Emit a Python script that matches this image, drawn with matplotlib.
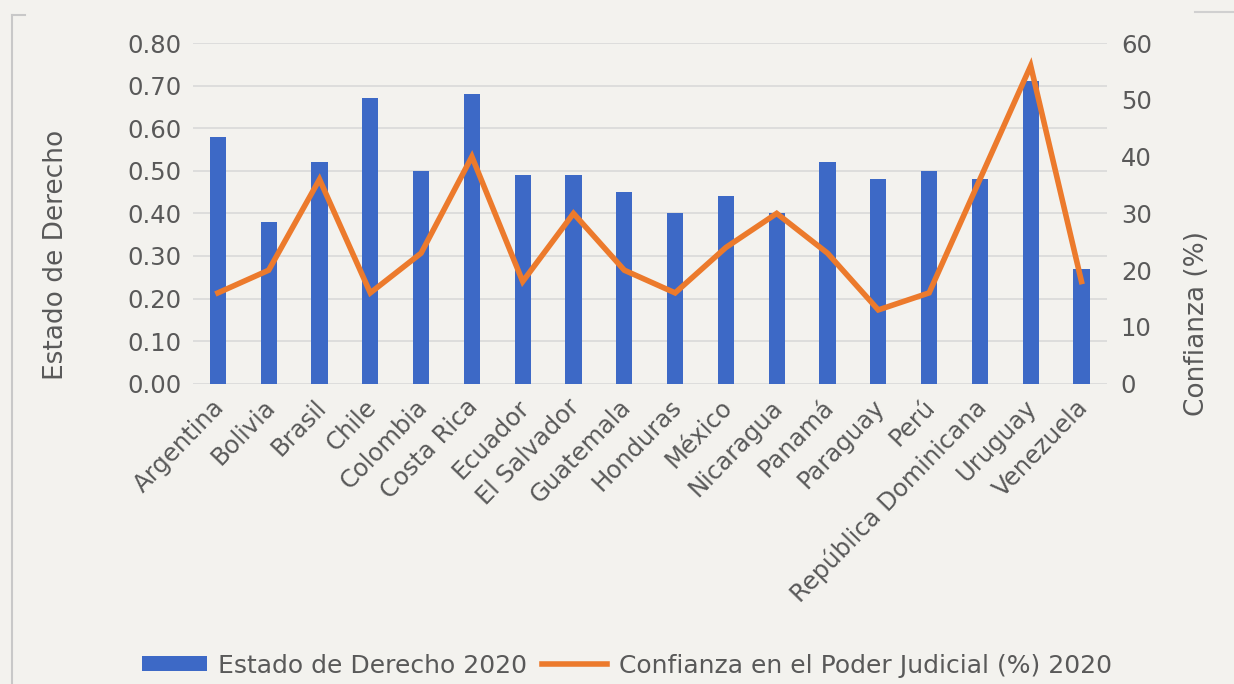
import matplotlib.pyplot as plt
from matplotlib.lines import Line2D
from matplotlib.transforms import ScaledTranslation
import numpy as np

# Data
paises = ['Argentina', 'Bolivia', 'Brasil', 'Chile', 'Colombia', 'Costa Rica',
          'Ecuador', 'El Salvador', 'Guatemala', 'Honduras', 'México',
          'Nicaragua', 'Panamá', 'Paraguay', 'Perú', 'República Dominicana',
          'Uruguay', 'Venezuela']
estado_derecho = [0.58, 0.38, 0.52, 0.67, 0.50, 0.68, 0.49, 0.49, 0.45, 0.40,
                  0.44, 0.40, 0.52, 0.48, 0.50, 0.48, 0.71, 0.27]
confianza = [16, 20, 36, 16, 23, 40, 18, 30, 20, 16, 24, 30, 23, 13, 16, 36,
             56, 18]

BG = '#f3f2ee'
BAR_COLOR = '#3d69c6'
LINE_COLOR = '#ec7a2c'
TEXT_COLOR = '#595959'
GRID_COLOR = '#d9d9d9'

plt.rcParams['font.family'] = ['DejaVu Sans']

fig = plt.figure(figsize=(12.34, 6.84), dpi=100, facecolor=BG)
ax = fig.add_axes([0.156, 0.439, 0.741, 0.498])
ax.set_facecolor(BG)
ax2 = ax.twinx()

x = np.arange(len(paises))
bars = ax.bar(x, estado_derecho, width=0.32, color=BAR_COLOR, zorder=2,
              label='Estado de Derecho 2020')
line, = ax2.plot(x, confianza, color=LINE_COLOR, linewidth=4,
                 solid_joinstyle='miter', zorder=3,
                 label='Confianza en el Poder Judicial (%) 2020')

ax.set_xlim(-0.5, len(paises) - 0.5)
ax.set_ylim(0, 0.8)
yt = np.arange(0, 0.81, 0.1)
ax.set_yticks(yt)
ax.set_yticklabels([f'{v:.2f}' for v in yt])
ax2.set_ylim(0, 60)
ax2.set_yticks(range(0, 61, 10))

ax.yaxis.grid(True, color=GRID_COLOR, linewidth=1.2, zorder=0)
ax.set_axisbelow(True)

for a in (ax, ax2):
    for s in a.spines.values():
        s.set_visible(False)
    a.tick_params(length=0, colors=TEXT_COLOR, labelsize=17.5)

ax.tick_params(axis='y', pad=8)
ax2.tick_params(axis='y', pad=10)
ax.set_xticks(x)
ax.set_xticklabels(paises, rotation=46, ha='right', rotation_mode='anchor',
                   fontsize=17.5, color=TEXT_COLOR)
ax.tick_params(axis='x', pad=8)
# nudge rotated labels slightly left, like the original
shift = ScaledTranslation(-6 / 100, 0, fig.dpi_scale_trans)
for lbl in ax.get_xticklabels():
    lbl.set_transform(lbl.get_transform() + shift)

# axis titles placed where the reference shows them
fig.text(0.045, 1 - 255 / 684, 'Estado de Derecho', rotation=90, ha='center',
         va='center', fontsize=19, color=TEXT_COLOR)
fig.text(0.970, 1 - 323 / 684, 'Confianza (%)', rotation=90, ha='center',
         va='center', fontsize=19, color=TEXT_COLOR)

leg = fig.legend(handles=[bars, line], loc='center', ncol=2,
                 bbox_to_anchor=(0.508, 0.027), frameon=False,
                 prop={'size': 18}, labelcolor=TEXT_COLOR,
                 handlelength=2.6, handleheight=0.55,
                 columnspacing=0.6, handletextpad=0.45)

# partial outer frame of the original chart
fig.add_artist(Line2D([0.010, 0.010], [0, 0.978], color='#c8c8c8',
                      linewidth=1.5, transform=fig.transFigure))
fig.add_artist(Line2D([0.010, 0.020], [0.978, 0.978], color='#c8c8c8',
                      linewidth=1.5, transform=fig.transFigure))
fig.add_artist(Line2D([0.968, 1.0], [0.983, 0.983], color='#d0d0d0',
                      linewidth=1.5, transform=fig.transFigure))

fig.savefig('out.png', dpi=100, facecolor=BG)
